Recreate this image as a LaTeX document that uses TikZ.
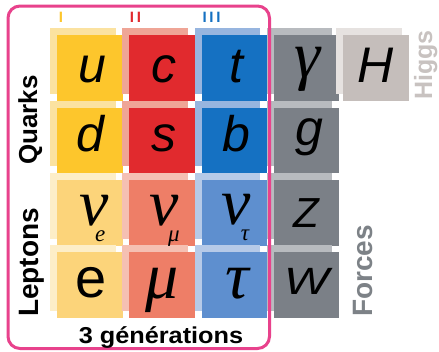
\documentclass[tikz,border=0pt]{standalone}
\usepackage{fontspec}
\setmainfont{Liberation Sans}
\newfontfamily\grkfont{Liberation Serif}
\newfontfamily\romfont[LetterSpace=18]{Liberation Sans}
\newcommand\pfs[1]{\fontsize{#1}{#1}\selectfont}
\newcommand\nusub[3]{ν\rlap{\kern#1pt\raisebox{#2pt}{\pfs{23}#3}}}
\definecolor{qyel}{HTML}{FDC62C} \definecolor{qyelL}{HTML}{FBE2A0}
\definecolor{qred}{HTML}{E12A2E} \definecolor{qredL}{HTML}{EFA596}
\definecolor{qblu}{HTML}{1571C2} \definecolor{qbluL}{HTML}{97B5DF}
\definecolor{lyel}{HTML}{FCD47A} \definecolor{lyelL}{HTML}{FDEEC8}
\definecolor{lred}{HTML}{EE7E67} \definecolor{lredL}{HTML}{F5C0B3}
\definecolor{lblu}{HTML}{5E8FCF} \definecolor{lbluL}{HTML}{B6CAE8}
\definecolor{gry}{HTML}{7B8087} \definecolor{gryL}{HTML}{B8BBBF}
\definecolor{hg}{HTML}{C5BEBB} \definecolor{hgL}{HTML}{E6E2E0}
\definecolor{pinkf}{HTML}{E8428C}
\definecolor{higgst}{HTML}{C8C2C0}
\definecolor{forcet}{HTML}{7D8287}
\newcommand\mycell[4]{%
  \fill[#4L] (#2-7,#3-7) rectangle ++(65.5,65.5);
  \node[cell, fill=#4, anchor=north west] (#1) at (#2,#3) {};
}
\tikzset{
  cell/.style={minimum width=65.5pt, minimum height=65.5pt, inner sep=0pt, draw=none},
  sym/.style={inner sep=0pt, font=\pfs{50}\itshape},
  gr/.style={inner sep=0pt, font=\grkfont\pfs{66}\itshape},
  lab/.style={inner sep=0pt, rotate=90, anchor=base},
  roman/.style={inner sep=0pt, font=\romfont\bfseries\pfs{15}}
}
\begin{document}
\begin{tikzpicture}[x=1pt,y=-1pt]
\useasboundingbox[fill=white] (0,0) rectangle (439,351);
% quarks
\mycell{cu}{57}{35}{qyel}
\mycell{cc}{129}{35}{qred}
\mycell{ct}{201.5}{35}{qblu}
\mycell{cd}{57}{107.5}{qyel}
\mycell{cs}{129}{107.5}{qred}
\mycell{cb}{201.5}{107.5}{qblu}
% leptons
\mycell{cnue}{57}{180}{lyel}
\mycell{cnum}{129}{180}{lred}
\mycell{cnut}{201.5}{180}{lblu}
\mycell{ce}{57}{252}{lyel}
\mycell{cmu}{129}{252}{lred}
\mycell{ctau}{201.5}{252}{lblu}
% forces
\mycell{cgam}{273.5}{35}{gry}
\mycell{cg}{273.5}{107.5}{gry}
\mycell{cz}{273.5}{180}{gry}
\mycell{cw}{273.5}{252}{gry}
% higgs
\mycell{ch}{343}{35}{hg}
% frame
\draw[pinkf, line width=3pt, rounded corners=12pt] (8,6) rectangle (269.5,348.5);
% roman numerals
\node[roman, text=qyel] (r1) at (61,17) {I};
\node[roman, text=qred] (r2) at (135.5,17) {II};
\node[roman, text=qblu] (r3) at (211.5,17) {III};
% symbols
\node[sym] (u) at (92.5,69.5) {u};
\node[sym] (c) at (163.5,69) {c};
\node[sym] (t) at (236,67) {t};
\node[gr] (gam) at (307.5,69.5) {γ};
\node[sym] (H) at (375.5,65.5) {H};
\node[sym] (d) at (90,133.5) {d};
\node[sym] (s) at (163.5,138.5) {s};
\node[sym] (b) at (236.5,133.5) {b};
\node[sym] (g) at (309,137.5) {g};
\node[gr, anchor=base] (nue) at (94,225.5) {\nusub{-13.5}{-16}{e}};
\node[gr, anchor=base] (num) at (164,225.5) {\nusub{-10.5}{-16}{μ}};
\node[gr, anchor=base] (nut) at (236,224.5) {\nusub{-9.7}{-16}{τ}};
\node[sym, font=\pfs{42}\itshape] (Z) at (306,213) {Z};
\node[inner sep=0pt, font=\pfs{56}] (e) at (91.5,283) {e};
\node[gr] (mu) at (162.5,290) {μ};
\node[gr] (tau) at (237,283.5) {τ};
\node[sym, font=\pfs{38}\itshape, xscale=1.25] (W) at (307,281.5) {W};
% labels
\node[lab, font=\bfseries\pfs{26}] (quarks) at (37,120) {Quarks};
\node[lab, font=\bfseries\pfs{28}] (leptons) at (38.5,262.5) {Leptons};
\node[lab, font=\bfseries\pfs{25}, text=higgst] (higgs) at (432,65) {Higgs};
\node[lab, font=\bfseries\pfs{28}, text=forcet] (forces) at (372,271) {Forces};
\node[inner sep=0pt, anchor=base, font=\bfseries\pfs{23}, xscale=1.1] (gen) at (161,343) {3 générations};
\end{tikzpicture}
\end{document}
